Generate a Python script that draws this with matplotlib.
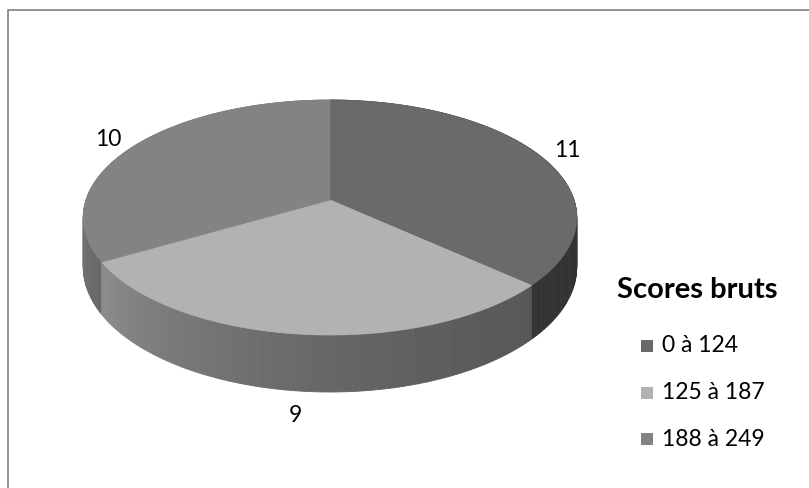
import numpy as np
import matplotlib.pyplot as plt
from matplotlib.colors import to_rgb
from matplotlib.patches import Polygon

# Scores bruts distribution
categories = ['0 à 124', '125 à 187', '188 à 249']
counts = [11, 9, 10]
top_colors = ['#6a6a6a', '#b2b2b2', '#838383']
legend_title = 'Scores bruts'

# pie projection (screen pixels)
CX, CY = 330, 200
SX, SY = 244, 114.9
PERSP = 0.149
THICK = 48.5

FONT = 'Lato'


def project(theta, r=1.0, drop=0.0):
    X = r * np.cos(theta)
    Y = r * np.sin(theta)
    d = 1 + PERSP * Y
    return CX + SX * X / d, CY - SY * Y / d + drop / d


def side_shade(theta):
    # light comes from the front-left
    deg = np.degrees(np.arctan2(np.sin(theta), np.cos(theta)))
    if deg > 90:
        deg -= 360
    t = np.clip((-deg - 8) / 172, 0, 1)
    return 0.47 + 0.47 * t ** 2


fig = plt.figure(figsize=(8.09, 4.88), dpi=100)
ax = fig.add_axes([0, 0, 1, 1])
ax.set_xlim(0, 809)
ax.set_ylim(488, 0)
ax.axis('off')

# chart frame
ax.plot([8.5, 8.5, 809], [488, 9.5, 9.5], color='#888888', lw=1.3,
        solid_capstyle='butt')

total = sum(counts)
starts = []
a = np.pi / 2
for c in counts:
    sweep = 2 * np.pi * c / total
    starts.append((a, a - sweep))
    a -= sweep

# side walls, drawn back to front in thin strips
quads = []
for (a0, a1), col in zip(starts, top_colors):
    n = max(4, int(abs(a1 - a0) / np.radians(1)))
    th = np.linspace(a0, a1, n + 1)
    base = np.array(to_rgb(col))
    for i in range(n):
        t0, t1 = th[i], th[i + 1]
        depth = np.sin((t0 + t1) / 2)
        p = [project(t0), project(t1), project(t1, drop=THICK), project(t0, drop=THICK)]
        shade = np.clip(base * side_shade((t0 + t1) / 2), 0, 1)
        quads.append((depth, p, shade))
quads.sort(key=lambda q: -q[0])
for depth, p, shade in quads:
    ax.add_patch(Polygon(p, closed=True, facecolor=shade, edgecolor=shade, lw=0.6))

# top faces
for (a0, a1), col in zip(starts, top_colors):
    th = np.linspace(a0, a1, 200)
    pts = [(CX, CY)] + [project(t) for t in th]
    ax.add_patch(Polygon(pts, closed=True, facecolor=col, edgecolor=col, lw=0.5))

# value labels
for (a0, a1), c in zip(starts, counts):
    mid = (a0 + a1) / 2
    drop = THICK if np.sin(mid) < 0 else 0
    x, y = project(mid, r=1.14, drop=drop)
    ax.text(x, y, str(c), fontsize=16.5, family=FONT, ha='center', va='center',
            color='#000000')

# legend
ax.text(697, 290, legend_title, fontsize=21, fontweight='bold', family=FONT,
        ha='center', va='center', color='#000000')
for i, (lab, col) in enumerate(zip(categories, top_colors)):
    y = 346 + i * 46.5
    ax.add_patch(plt.Rectangle((641, y - 6), 12, 12, facecolor=col, edgecolor='none'))
    ax.text(662, y, lab, fontsize=16.5, family=FONT, ha='left', va='center',
            color='#000000')

fig.savefig('out.png', dpi=100)
